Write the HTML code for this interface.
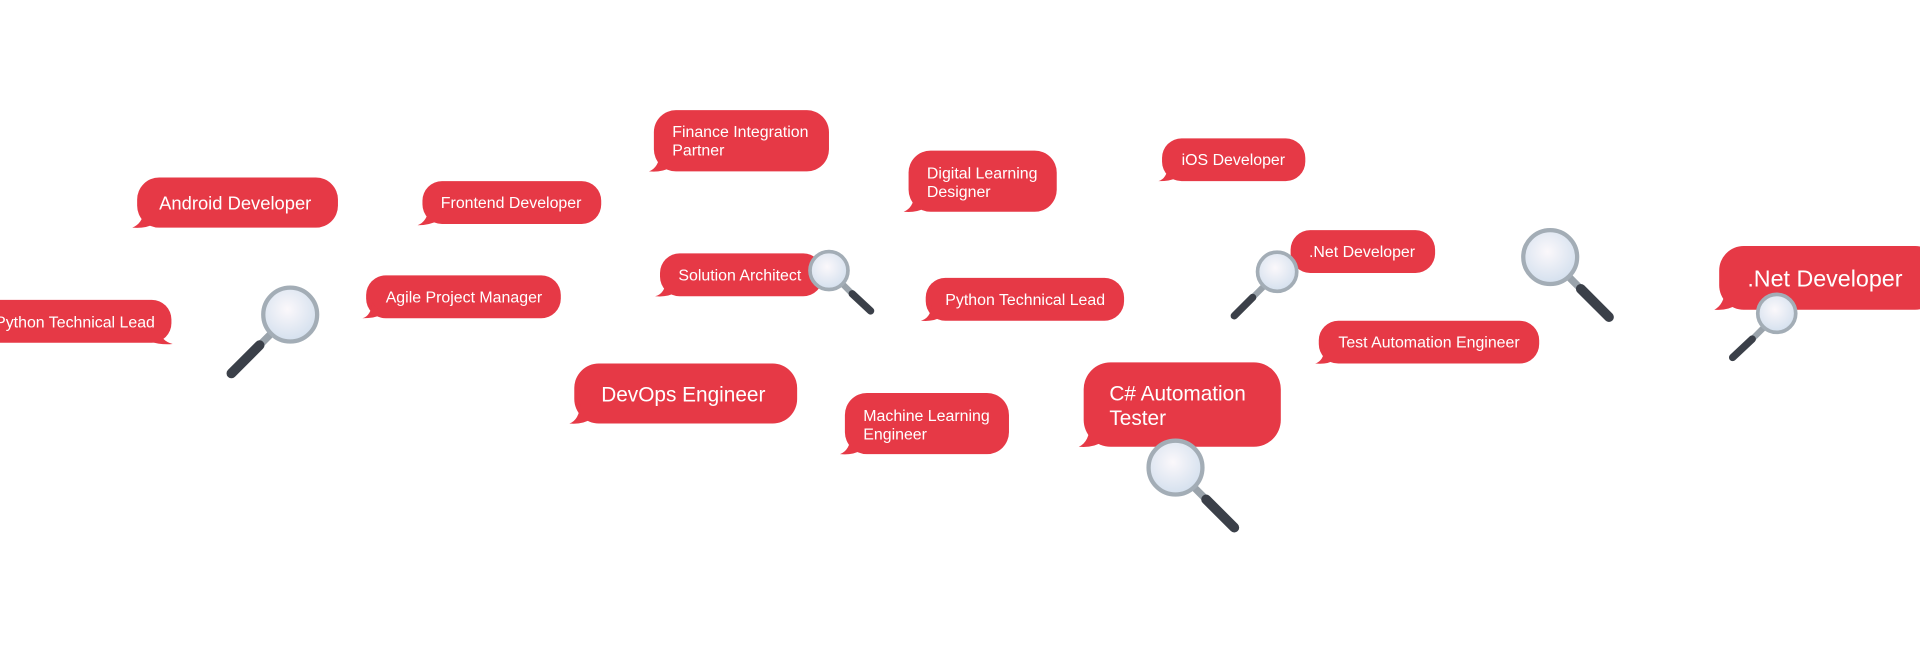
<!DOCTYPE html>
<html><head><meta charset="utf-8"><style>
html,body{margin:0;padding:0;background:#fff;width:1920px;height:650px;overflow:hidden}
svg text{font-family:"Liberation Sans",sans-serif;fill:#fff}
</style></head><body>
<svg width="1920" height="650" viewBox="0 0 1568 531" preserveAspectRatio="none" xmlns="http://www.w3.org/2000/svg">
<defs>
<radialGradient id="lg" cx="0.45" cy="0.4" r="0.6"><stop offset="0" stop-color="#fbf8fb"/><stop offset="1" stop-color="#d4e0ee"/></radialGradient>
</defs>
<g fill="#e63946">
<!-- Python Technical Lead left (tail right) -->
<rect x="-20" y="245" width="160" height="35" rx="16"/><path d="M128 268 Q132 279 141 281 Q132 282 122 279Z"/>
<!-- Android -->
<rect x="112" y="145" width="164" height="41" rx="18"/><path d="M118 172 Q116 183 108 186 Q118 187 126 183Z"/>
<!-- Frontend -->
<rect x="345" y="148" width="146" height="35" rx="16"/><path d="M350 170 Q349 181 341 184 Q351 184 358 180Z"/>
<!-- Agile -->
<rect x="299" y="225" width="159" height="35" rx="16"/><path d="M304 247 Q303 258 296 260 Q306 260 312 257Z"/>
<!-- Finance -->
<rect x="534" y="90" width="143" height="50" rx="18"/><path d="M539 125 Q538 137 530 140 Q540 141 547 137Z"/>
<!-- Solution Architect -->
<rect x="539" y="207" width="133" height="35" rx="16"/><path d="M544 229 Q543 240 535 242 Q545 243 552 239Z"/>
<!-- DevOps -->
<rect x="469" y="297" width="182" height="49" rx="20"/><path d="M474 330 Q473 343 465 346 Q476 347 483 342Z"/>
<!-- Machine Learning -->
<rect x="690" y="321" width="134" height="50" rx="18"/><path d="M695 356 Q694 368 686 371 Q696 372 703 368Z"/>
<!-- Digital Learning -->
<rect x="742" y="123" width="121" height="50" rx="18"/><path d="M747 158 Q746 170 738 173 Q748 174 755 170Z"/>
<!-- Python Technical Lead -->
<rect x="756" y="227" width="162" height="35" rx="16"/><path d="M761 249 Q760 260 752 262 Q762 263 769 259Z"/>
<!-- iOS -->
<rect x="949" y="113" width="117" height="35" rx="16"/><path d="M954 135 Q953 146 946 148 Q956 148 962 145Z"/>
<!-- C# -->
<rect x="885" y="296" width="161" height="69" rx="22"/><path d="M890 346 Q890 361 881 365 Q893 366 900 361Z"/>
<!-- .Net small -->
<rect x="1054" y="188" width="118" height="35" rx="16"/>
<!-- Test Automation -->
<rect x="1077" y="262" width="180" height="35" rx="16"/><path d="M1082 284 Q1081 295 1074 297 Q1084 298 1090 294Z"/>
<!-- .Net big -->
<rect x="1404" y="201" width="180" height="52" rx="20"/><path d="M1409 236 Q1408 249 1400 253 Q1411 254 1418 249Z"/>
</g>
<g font-size="13">
<text x="-4" y="267.5">Python Technical Lead</text>
<text x="130" y="171" font-size="15">Android Developer</text>
<text x="360" y="170">Frontend Developer</text>
<text x="315" y="247">Agile Project Manager</text>
<text x="549" y="112">Finance Integration</text>
<text x="549" y="127">Partner</text>
<text x="554" y="229">Solution Architect</text>
<text x="491" y="328" font-size="17">DevOps Engineer</text>
<text x="705" y="344">Machine Learning</text>
<text x="705" y="359">Engineer</text>
<text x="757" y="146">Digital Learning</text>
<text x="757" y="161">Designer</text>
<text x="772" y="249">Python Technical Lead</text>
<text x="965" y="135">iOS Developer</text>
<text x="906" y="327" font-size="17">C# Automation</text>
<text x="906" y="347" font-size="17">Tester</text>
<text x="1069" y="210">.Net Developer</text>
<text x="1093" y="284">Test Automation Engineer</text>
<text x="1427" y="234" font-size="19">.Net Developer</text>
</g>
<!-- magnifiers -->
<g stroke-linecap="round">
<g><line x1="222" y1="272" x2="213" y2="281" stroke="#9aa3ab" stroke-width="6"/><line x1="212" y1="282" x2="189" y2="305" stroke="#3b4049" stroke-width="8"/><circle cx="237" cy="257" r="22" fill="url(#lg)" stroke="#a3adb6" stroke-width="3.5"/></g>
<g><line x1="688" y1="232" x2="695" y2="239" stroke="#9aa3ab" stroke-width="5"/><line x1="696" y1="240" x2="711" y2="254" stroke="#3b4049" stroke-width="6"/><circle cx="677" cy="221" r="15.5" fill="url(#lg)" stroke="#a3adb6" stroke-width="3"/></g>
<g><line x1="1031" y1="235" x2="1024" y2="242" stroke="#9aa3ab" stroke-width="5"/><line x1="1023" y1="243" x2="1008" y2="258" stroke="#3b4049" stroke-width="6"/><circle cx="1043" cy="222" r="16" fill="url(#lg)" stroke="#a3adb6" stroke-width="3"/></g>
<g><line x1="1281" y1="226" x2="1290" y2="235" stroke="#9aa3ab" stroke-width="6"/><line x1="1291" y1="236" x2="1314" y2="259" stroke="#3b4049" stroke-width="8"/><circle cx="1266" cy="210" r="22" fill="url(#lg)" stroke="#a3adb6" stroke-width="3.5"/></g>
<g><line x1="975" y1="398" x2="984" y2="407" stroke="#9aa3ab" stroke-width="6"/><line x1="985" y1="408" x2="1008" y2="431" stroke="#3b4049" stroke-width="8"/><circle cx="960" cy="382" r="22" fill="url(#lg)" stroke="#a3adb6" stroke-width="3.5"/></g>
<g><line x1="1440" y1="268" x2="1432" y2="276" stroke="#9aa3ab" stroke-width="5"/><line x1="1431" y1="277" x2="1415" y2="292" stroke="#3b4049" stroke-width="6"/><circle cx="1451" cy="256" r="15.5" fill="url(#lg)" stroke="#a3adb6" stroke-width="3"/></g>
</g>
</svg>
</body></html>
